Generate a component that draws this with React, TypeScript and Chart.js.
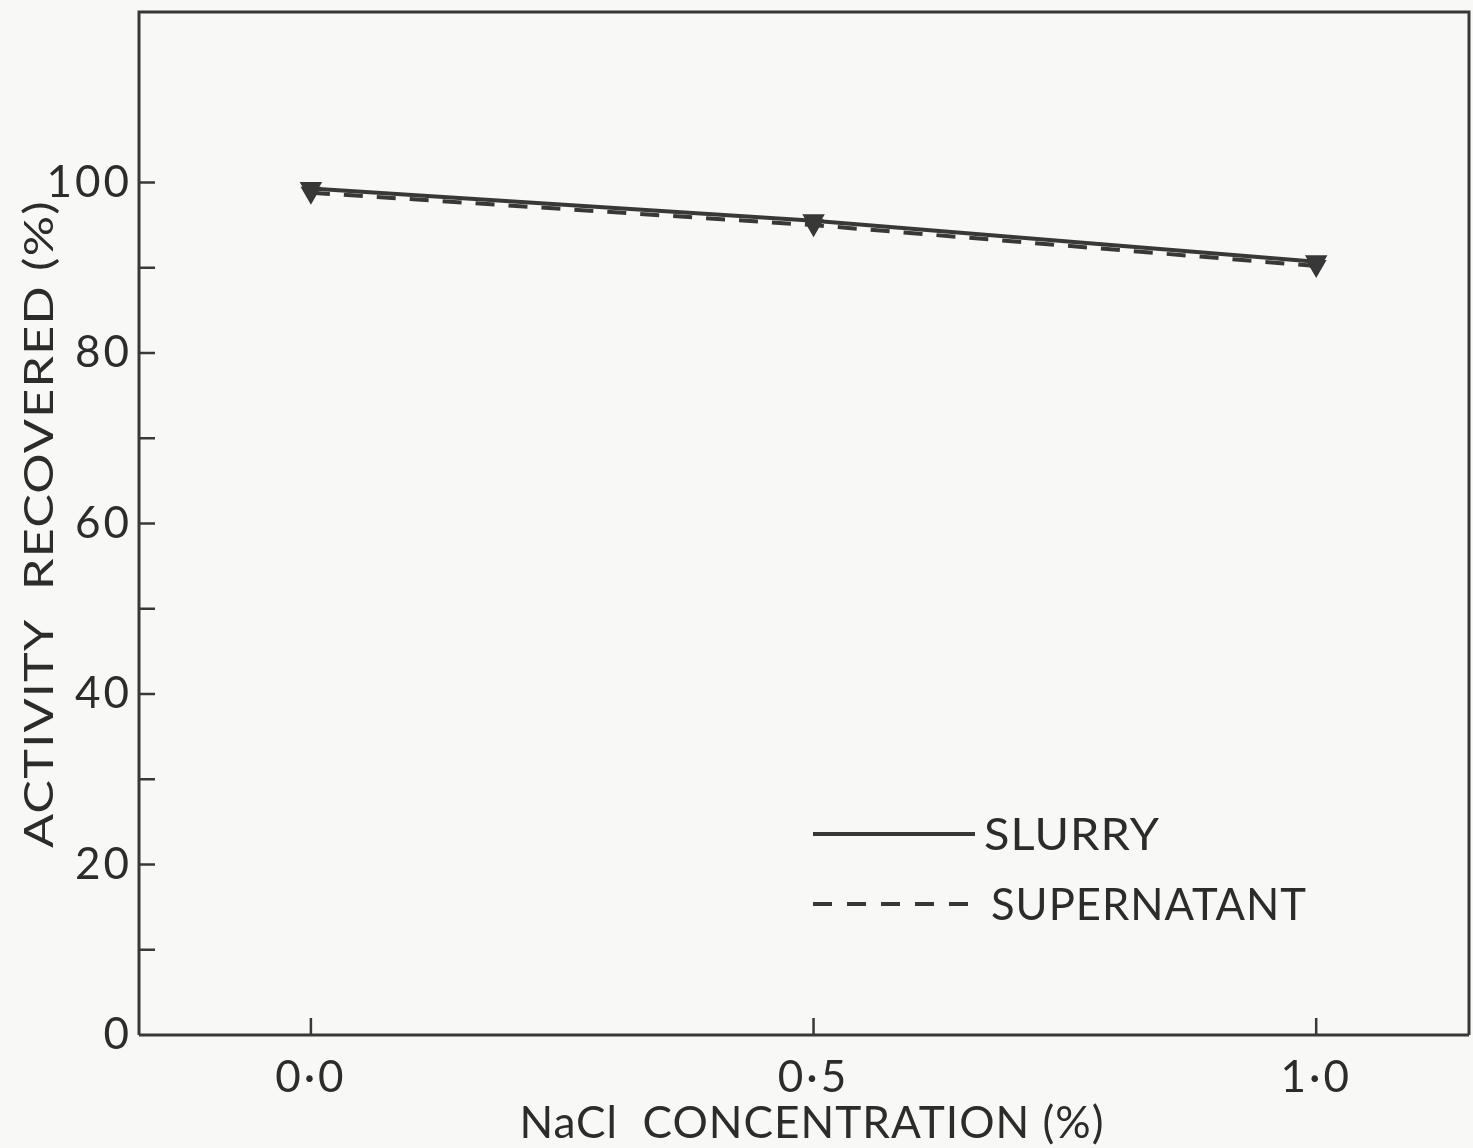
import React, { useEffect, useRef } from "react";
import { Chart, registerables } from "chart.js";

Chart.register(...registerables);

const xLabels = ["0·0", "0·5", "1·0"];
const xTickValues = [0, 0.5, 1.0];
const concentration = [0, 0.5, 1.0];
const slurry = [99.3, 95.5, 90.7];
const supernatant = [98.8, 95.0, 90.2];
const yTickValues = [0, 10, 20, 30, 40, 50, 60, 70, 80, 90, 100, 110];
const yLabeled = [0, 20, 40, 60, 80, 100];
const xTitle = "NaCl  CONCENTRATION (%)";
const yTitle = "ACTIVITY  RECOVERED (%)";

const INK = "#383838";
const TEXT = "#2c2c2c";
const FONT = "Lato, 'DejaVu Sans', sans-serif";

// draws text stretched horizontally so that it spans targetWidth
function stretchedText(ctx: any, text: string, x: number, y: number, size: number, targetWidth: number, align: "left" | "center") {
  ctx.save();
  ctx.font = `${size}px ${FONT}`;
  ctx.letterSpacing = "1px";
  const w0 = ctx.measureText(text).width;
  const k = targetWidth / w0;
  ctx.translate(x, y);
  ctx.scale(k, 1);
  ctx.textAlign = align;
  ctx.textBaseline = "middle";
  ctx.fillText(text, 0, 0);
  ctx.restore();
}

const spacingPlugin = {
  id: "spacing",
  beforeLayout(chart: any) {
    chart.ctx.letterSpacing = "3px";
  },
  beforeDraw(chart: any) {
    chart.ctx.letterSpacing = "3px";
  },
};

const framePlugin = {
  id: "frame",
  afterDraw(chart: any) {
    const { ctx, chartArea } = chart;
    const { left, right, top, bottom } = chartArea;
    const xs = chart.scales.x;
    const ys = chart.scales.y;
    ctx.save();
    ctx.strokeStyle = INK;
    ctx.lineWidth = 3;
    ctx.beginPath();
    ctx.moveTo(left, bottom);
    ctx.lineTo(left, top);
    ctx.lineTo(right, top);
    ctx.lineTo(right, bottom);
    ctx.moveTo(left, bottom);
    ctx.lineTo(right, bottom);
    ctx.stroke();
    ctx.lineWidth = 2.5;
    ctx.beginPath();
    ys.ticks.forEach((t: any) => {
      if (t.value <= 0 || t.value > 100) return;
      const y = ys.getPixelForValue(t.value);
      ctx.moveTo(left, y);
      ctx.lineTo(left + 16, y);
    });
    xTickValues.forEach((v) => {
      const x = xs.getPixelForValue(v);
      ctx.moveTo(x, bottom);
      ctx.lineTo(x, bottom - 17);
    });
    ctx.stroke();

    ctx.fillStyle = TEXT;
    // x title
    stretchedText(ctx, xTitle, 812, 1124, 44, 585, "center");
    // y title
    ctx.save();
    ctx.translate(40, 524);
    ctx.rotate(-Math.PI / 2);
    stretchedText(ctx, yTitle, 0, 0, 41, 648, "center");
    ctx.restore();

    // legend
    const lx0 = 813;
    const lineEnds = [975, 968];
    const textStarts = [984, 991];
    const rows = [834, 904];
    const textRows = [836, 906];
    const widths = [176, 316];
    chart.data.datasets.forEach((ds: any, i: number) => {
      const y = rows[i];
      ctx.lineWidth = 4;
      ctx.strokeStyle = INK;
      ctx.setLineDash(ds.borderDash ? [19, 15] : []);
      ctx.beginPath();
      ctx.moveTo(lx0, y);
      ctx.lineTo(lineEnds[i], y);
      ctx.stroke();
      ctx.setLineDash([]);
      ctx.fillStyle = TEXT;
      stretchedText(ctx, ds.label, textStarts[i], textRows[i], 44, widths[i], "left");
    });
    ctx.restore();
  },
};

export default function App() {
  const ref = useRef<HTMLCanvasElement>(null);
  useEffect(() => {
    document.body.style.margin = "0";
    document.body.style.background = "#f8f8f6";
    const chart = new Chart(ref.current!, {
      type: "line",
      data: {
        datasets: [
          {
            label: "SLURRY",
            data: concentration.map((x, i) => ({ x, y: slurry[i] })),
            borderColor: INK,
            backgroundColor: INK,
            borderWidth: 4,
            pointStyle: "triangle",
            rotation: 180,
            pointRadius: 9,
            tension: 0,
          },
          {
            label: "SUPERNATANT",
            data: concentration.map((x, i) => ({ x, y: supernatant[i] })),
            borderColor: INK,
            backgroundColor: INK,
            borderWidth: 4,
            borderDash: [19, 14],
            pointStyle: "triangle",
            rotation: 180,
            pointRadius: 8,
            tension: 0,
          },
        ],
      },
      options: {
        animation: false,
        responsive: false,
        maintainAspectRatio: false,
        layout: { autoPadding: false, padding: { top: 12, right: 4, left: 0, bottom: 0 } },
        plugins: { legend: { display: false }, tooltip: { enabled: false } },
        scales: {
          x: {
            type: "linear",
            min: -0.171,
            max: 1.152,
            afterBuildTicks: (s: any) => {
              s.ticks = xTickValues.map((v) => ({ value: v }));
            },
            afterFit: (s: any) => {
              s.height = 113;
              s.paddingLeft = 0;
              s.paddingRight = 0;
            },
            grid: { display: false },
            border: { display: false },
            ticks: {
              color: TEXT,
              font: { family: FONT, size: 44 },
              padding: 8,
              callback: (v: any) => {
                const i = xTickValues.indexOf(Number(v));
                return i >= 0 ? xLabels[i] : "";
              },
            },
          },
          y: {
            min: 0,
            max: 120,
            afterBuildTicks: (s: any) => {
              s.ticks = yTickValues.map((v) => ({ value: v }));
            },
            afterFit: (s: any) => {
              s.width = 139;
              s.paddingTop = 0;
              s.paddingBottom = 0;
            },
            grid: { display: false },
            border: { display: false },
            ticks: {
              color: TEXT,
              font: { family: FONT, size: 44 },
              padding: -1,
              callback: (v: any) => (yLabeled.includes(Number(v)) ? String(v) : ""),
            },
          },
        },
      },
      plugins: [spacingPlugin, framePlugin],
    });
    return () => chart.destroy();
  }, []);
  return (
    <div style={{ position: "absolute", left: 0, top: 0, width: 1473, height: 1148 }}>
      <canvas ref={ref} width={1473} height={1148} style={{ width: 1473, height: 1148 }} />
    </div>
  );
}
